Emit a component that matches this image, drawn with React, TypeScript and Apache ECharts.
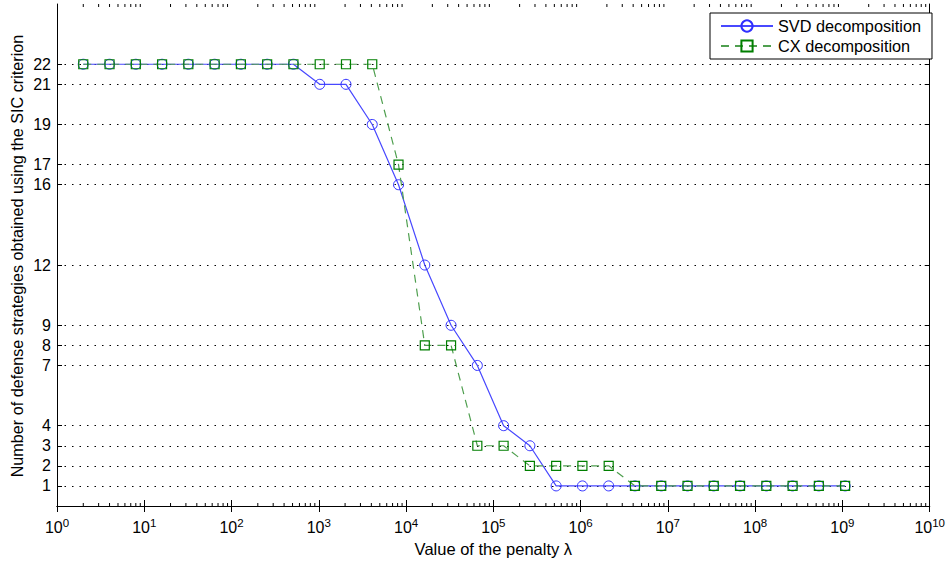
import React, { useEffect, useRef } from "react";
import * as echarts from "echarts";

const penalty = [
  2, 4, 8, 16, 32, 64, 128, 256, 512, 1024, 2048, 4096, 8192, 16384, 32768,
  65536, 131072, 262144, 524288, 1048576, 2097152, 4194304, 8388608, 16777216,
  33554432, 67108864, 134217728, 268435456, 536870912, 1073741824,
];
const svdValues = [
  22, 22, 22, 22, 22, 22, 22, 22, 22, 21, 21, 19, 16, 12, 9, 7, 4, 3, 1, 1, 1,
  1, 1, 1, 1, 1, 1, 1, 1, 1,
];
const cxValues = [
  22, 22, 22, 22, 22, 22, 22, 22, 22, 22, 22, 22, 17, 8, 8, 3, 3, 2, 2, 2, 2,
  1, 1, 1, 1, 1, 1, 1, 1, 1,
];
const yTicks = [1, 2, 3, 4, 7, 8, 9, 12, 16, 17, 19, 21, 22];
const seriesNames = ["SVD decomposition", "CX decomposition"];
const yTitle = "Number of defense strategies obtained using the SIC criterion";
const xTitle = "Value of the penalty λ";

const FONT = "'Liberation Sans', Arial, sans-serif";

export default function App() {
  const ref = useRef<HTMLDivElement>(null);
  useEffect(() => {
    if (!ref.current) return;
    const chart = echarts.init(ref.current, undefined, { renderer: "svg" });
    const minor: number[][] = [];
    for (let e = 0; e < 10; e++) {
      for (let m = 2; m <= 9; m++) minor.push([m * Math.pow(10, e), 1]);
    }
    const xAxisBase = {
      type: "log",
      logBase: 10,
      min: 1,
      max: 1e10,
      interval: 1,
      axisLine: { show: true, lineStyle: { color: "#000", width: 1 } },
      axisTick: { show: true, inside: true, length: 6, lineStyle: { color: "#000" } },
      splitLine: { show: false },
      minorTick: { show: false },
    };
    const yAxisBase = {
      type: "value",
      min: 0,
      max: 25,
      axisLine: { show: true, lineStyle: { color: "#000", width: 1 } },
      axisTick: { show: true, inside: true, length: 5, customValues: yTicks, lineStyle: { color: "#000" } },
    };
    chart.setOption({
      animation: false,
      backgroundColor: "#fff",
      grid: { left: 57, right: 16, top: 4, bottom: 54 },
      graphic: [
        {
          type: "text",
          x: 17,
          y: 256,
          rotation: Math.PI / 2,
          style: {
            text: yTitle,
            fontFamily: FONT,
            fontSize: 16.2,
            fill: "#000",
            align: "center",
            verticalAlign: "middle",
          },
        },
      ],
      legend: {
        data: seriesNames,
        orient: "vertical",
        left: 710,
        top: 13,
        padding: [5, 11, 5, 10],
        itemGap: 4,
        itemWidth: 52,
        itemHeight: 14,
        backgroundColor: "#fff",
        borderColor: "#000",
        borderWidth: 1,
        borderRadius: 0,
        textStyle: { fontFamily: FONT, fontSize: 16.3, color: "#000" },
      },
      xAxis: [
        {
          ...xAxisBase,
          position: "bottom",
          name: xTitle,
          nameLocation: "middle",
          nameGap: 34,
          nameTextStyle: { fontFamily: FONT, fontSize: 16.5, color: "#000" },
          axisLabel: {
            show: true,
            margin: 11,
            color: "#000",
            formatter: (v: number) => `{b|10}{e|${Math.round(Math.log10(v))}}`,
            rich: {
              b: { fontFamily: FONT, fontSize: 16, color: "#000" },
              e: { fontFamily: FONT, fontSize: 11.5, color: "#000", verticalAlign: "bottom", padding: [0, 0, 8, 0] },
            },
          },
        },
        { ...xAxisBase, position: "top", axisLabel: { show: false } },
      ],
      yAxis: [
        {
          ...yAxisBase,
          position: "left",
          axisLabel: {
            show: true,
            customValues: yTicks,
            margin: 6,
            fontFamily: FONT,
            fontSize: 16,
            color: "#000",
          },
          splitLine: { show: true, lineStyle: { color: "#000", type: [1.5, 6], width: 1 } },
        },
        {
          ...yAxisBase,
          position: "right",
          axisLabel: { show: false },
          splitLine: { show: false },
        },
      ],
      series: [
        {
          type: "custom",
          name: "minorTicks",
          silent: true,
          xAxisIndex: 0,
          yAxisIndex: 0,
          encode: { x: 0, y: 1 },
          data: minor,
          clip: false,
          renderItem: (params: any, api: any) => {
            const pt = api.coord([api.value(0), api.value(1)]);
            const cs = params.coordSys;
            const bottom = cs.y + cs.height;
            return {
              type: "group",
              children: [
                { type: "line", shape: { x1: pt[0], y1: bottom, x2: pt[0], y2: bottom - 3 }, style: { stroke: "#000", lineWidth: 1 } },
                { type: "line", shape: { x1: pt[0], y1: cs.y, x2: pt[0], y2: cs.y + 3 }, style: { stroke: "#000", lineWidth: 1 } },
              ],
            };
          },
        },
        {
          type: "line",
          name: seriesNames[0],
          data: penalty.map((x, i) => [x, svdValues[i]]),
          symbol: "circle",
          symbolSize: 10,
          itemStyle: { color: "rgba(0,0,0,0)", borderColor: "#3030ff", borderWidth: 1 },
          lineStyle: { color: "#4848ff", width: 1.2, type: "solid" },
          z: 3,
        },
        {
          type: "line",
          name: seriesNames[1],
          data: penalty.map((x, i) => [x, cxValues[i]]),
          symbol: "rect",
          symbolSize: 9,
          itemStyle: { color: "rgba(0,0,0,0)", borderColor: "#007f00", borderWidth: 1.2 },
          lineStyle: { color: "#4f9f4f", width: 1.2, type: [8, 6] },
          z: 4,
        },
      ],
    });
    return () => chart.dispose();
  }, []);
  return (
    <div
      ref={ref}
      style={{ position: "fixed", left: 0, top: 0, width: 948, height: 562 }}
    />
  );
}
